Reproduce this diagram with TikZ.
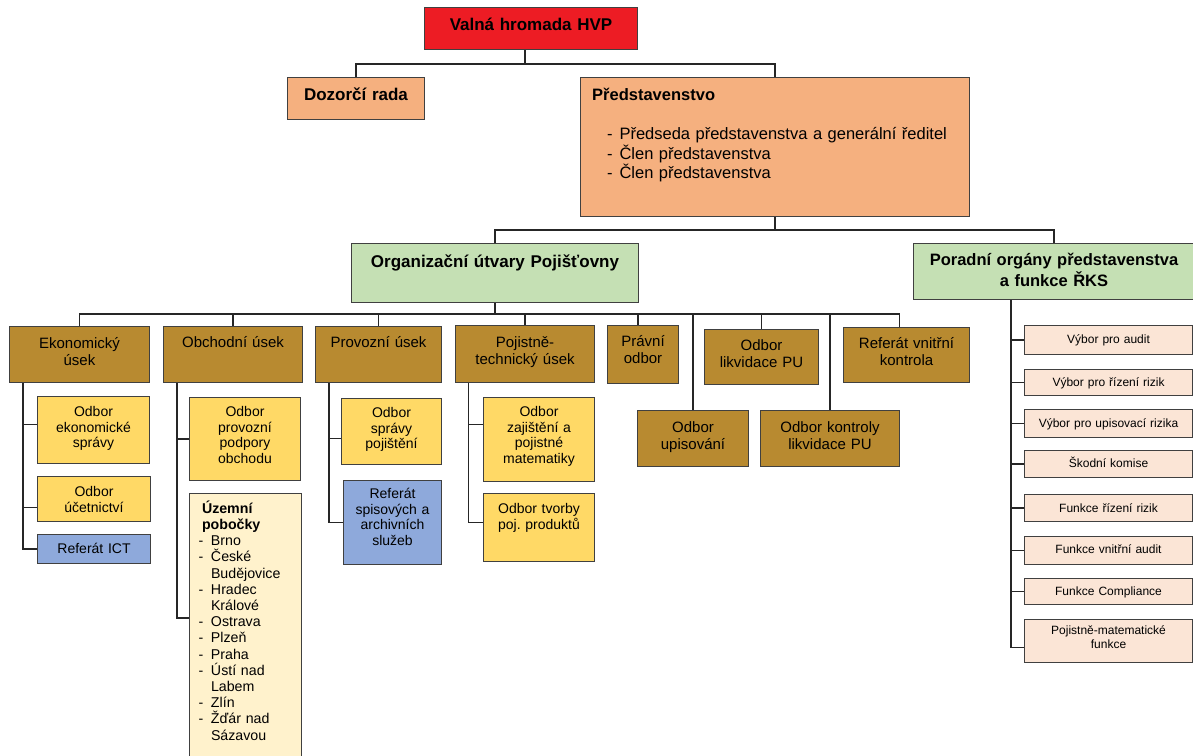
\documentclass[tikz,border=0pt]{standalone}
\usepackage{fontspec}
\setmainfont{Liberation Sans}
\usetikzlibrary{positioning}

\definecolor{hvpred}{HTML}{ED1C24}
\definecolor{salmon}{HTML}{F5B07F}
\definecolor{sage}{HTML}{C5E0B4}
\definecolor{ochre}{HTML}{B88A30}
\definecolor{golden}{HTML}{FFD966}
\definecolor{steel}{HTML}{8EA9DB}
\definecolor{cream}{HTML}{FFF2CC}
\definecolor{blush}{HTML}{FBE5D6}
\definecolor{edge}{HTML}{404040}
\definecolor{wire}{HTML}{262626}

\newcommand{\dashline}[3]{\hspace*{#1}\makebox[#2][l]{-}#3}

\begin{document}
\begin{tikzpicture}[x=1pt, y=-1pt,
    box/.style={draw=edge, line width=1pt, anchor=north west, inner sep=0pt, align=center},
    boxsize/.style n args={3}{text width=#1pt, text height=#3pt,
        /utils/exec={\pgfmathsetmacro\bxdepth{#2-#3}}, text depth=\bxdepth pt},
    conn/.style={draw=wire, line width=1.3pt},
    headbox/.style={box, font=\bfseries\fontsize{17}{20}\selectfont},
    unitbox/.style={box, fill=ochre, font=\fontsize{15}{17}\selectfont},
    deptbox/.style={box, fill=golden, font=\fontsize{14}{15.7}\selectfont},
    refbox/.style={box, fill=steel, font=\fontsize{14}{15.7}\selectfont},
    boardbox/.style={box, fill=blush, font=\fontsize{12}{14.3}\selectfont}
    ]
\useasboundingbox (0,0) rectangle (1193,755);

% vedeni
\node[headbox, fill=hvpred, boxsize={213}{42}{23}] (valna) at (424,7) {Valná hromada HVP};
\node[headbox, fill=salmon, boxsize={137}{42}{23}] (dozorci) at (287,77) {Dozorčí rada};
\node[box, fill=salmon, boxsize={389}{139}{23}, align=left,
    font=\fontsize{16.5}{19.5}\selectfont] (predst) at (580,77)
    {\hspace*{11.7pt}\textbf{Představenstvo}\\[19.5pt]
     \dashline{26.6pt}{12.4pt}{Předseda představenstva a generální ředitel}\\
     \dashline{26.6pt}{12.4pt}{Člen představenstva}\\
     \dashline{26.6pt}{12.4pt}{Člen představenstva}};

\node[headbox, fill=sage, boxsize={287}{59}{24}] (organ) at (351,243) {Organizační útvary Pojišťovny};
\node[box, fill=sage, boxsize={281}{56}{22}, font=\bfseries\fontsize{16.5}{21}\selectfont] (poradni) at (913,243)
    {Poradní orgány představenstva\\a funkce ŘKS};

% useky
\node[unitbox, boxsize={140}{56}{22}] (ekon) at (9,326) {Ekonomický\\úsek};
\node[unitbox, boxsize={139}{56}{21}] (obch) at (163,326) {Obchodní úsek};
\node[unitbox, boxsize={126}{56}{21}] (provoz) at (315,326) {Provozní úsek};
\node[unitbox, boxsize={139}{57}{22}] (pojtech) at (455,325) {Pojistně-\\technický úsek};
\node[unitbox, boxsize={71}{58}{21}] (pravni) at (607,325) {Právní\\odbor};
\node[unitbox, boxsize={114}{55}{21}] (likv) at (704,329) {Odbor\\likvidace PU};
\node[unitbox, boxsize={126}{55}{21}] (refvk) at (843,327) {Referát vnitřní\\kontrola};
\node[unitbox, boxsize={111}{56}{22}] (upis) at (637,410) {Odbor\\upisování};
\node[unitbox, boxsize={139}{56}{22}] (kontr) at (760,410) {Odbor kontroly\\likvidace PU};

% odbory
\node[deptbox, boxsize={112}{67}{20}] (eksprava) at (37,396) {Odbor\\ekonomické\\správy};
\node[deptbox, boxsize={113}{45}{20}] (ucet) at (37,476) {Odbor\\účetnictví};
\node[refbox, boxsize={113}{29}{19}] (ict) at (37,534) {Referát ICT};
\node[deptbox, boxsize={111}{83}{19}] (podpora) at (189,397) {Odbor\\provozní\\podpory\\obchodu};
\node[box, fill=cream, boxsize={112}{280}{19.7}, align=left,
    font=\fontsize{14.2}{16.2}\selectfont] (pobocky) at (189,493)
    {\hspace*{12.5pt}\textbf{Územní}\\
     \hspace*{12.5pt}\textbf{pobočky}\\
     \dashline{9pt}{12.5pt}{Brno}\\
     \dashline{9pt}{12.5pt}{České}\\
     \hspace*{21.5pt}Budějovice\\
     \dashline{9pt}{12.5pt}{Hradec}\\
     \hspace*{21.5pt}Králové\\
     \dashline{9pt}{12.5pt}{Ostrava}\\
     \dashline{9pt}{12.5pt}{Plzeň}\\
     \dashline{9pt}{12.5pt}{Praha}\\
     \dashline{9pt}{12.5pt}{Ústí nad}\\
     \hspace*{21.5pt}Labem\\
     \dashline{9pt}{12.5pt}{Zlín}\\
     \dashline{9pt}{12.5pt}{Žďár nad}\\
     \hspace*{21.5pt}Sázavou};
\node[deptbox, boxsize={100}{66}{19}] (spravapoj) at (341,398) {Odbor\\správy\\pojištění};
\node[refbox, boxsize={98}{84}{18}] (spis) at (343,480) {Referát\\spisových a\\archivních\\služeb};
\node[deptbox, boxsize={111}{84}{19}] (zajist) at (483,397) {Odbor\\zajištění a\\pojistné\\matematiky};
\node[deptbox, boxsize={111}{68}{20}] (tvorba) at (483,493) {Odbor tvorby\\poj.\ produktů};

% poradni organy
\node[boardbox, boxsize={168}{29}{18}] (vaudit) at (1024,325) {Výbor pro audit};
\node[boardbox, boxsize={168}{26}{17}] (vrizik) at (1024,369) {Výbor pro řízení rizik};
\node[boardbox, boxsize={168}{28}{18}] (vupis) at (1024,409) {Výbor pro upisovací rizika};
\node[boardbox, boxsize={168}{27}{17}] (skoda) at (1024,450) {Škodní komise};
\node[boardbox, boxsize={168}{27}{18}] (frizik) at (1024,494) {Funkce řízení rizik};
\node[boardbox, boxsize={168}{28}{17}] (faudit) at (1024,536) {Funkce vnitřní audit};
\node[boardbox, boxsize={168}{26}{17}] (fcomp) at (1024,578) {Funkce Compliance};
\node[boardbox, boxsize={168}{43}{15}] (pojmat) at (1024,619) {Pojistně-matematické\\funkce};

% spojnice
\coordinate (j1) at ([xshift=-6pt,yshift=-14pt]valna.south);
\draw[conn] (j1) -- (j1 |- valna.south);
\draw[conn] (dozorci.north) |- (j1) -| (predst.north);

\coordinate (j2) at ([yshift=-13pt]predst.south);
\draw[conn] (predst.south) -- (j2);
\draw[conn] (organ.north) |- (j2) -| (poradni.north);

\coordinate (j3) at ([yshift=-11pt]organ.south);
\draw[conn] (organ.south) -- (j3);
\foreach \n in {ekon,obch,provoz,pojtech,likv,upis,kontr}
    \draw[conn] (j3) -| (\n.north);
\draw[conn] (j3) -| ([xshift=-5pt]pravni.north);
\draw[conn] (j3) -| ([xshift=-7pt]refvk.north);

\coordinate (es) at ([xshift=14pt]ekon.south west);
\draw[conn] (es) |- ([yshift=5.5pt]eksprava.west);
\draw[conn] (es) |- ([yshift=-8.5pt]ucet.west);
\draw[conn] (es) |- (ict.west);

\coordinate (os) at ([xshift=14pt]obch.south west);
\draw[conn] (os) |- (podpora.west);
\draw[conn] (os) |- ([yshift=-125pt]pobocky.north west);

\coordinate (ps) at ([xshift=14pt]provoz.south west);
\draw[conn] (ps) |- ([yshift=-7pt]spravapoj.west);
\draw[conn] (ps) |- (spis.west);

\coordinate (ts) at ([xshift=13.5pt]pojtech.south west);
\draw[conn] (ts) |- ([yshift=15pt]zajist.west);
\draw[conn] (ts) |- ([yshift=5pt]tvorba.west);

\coordinate (rs) at ([xshift=98pt]poradni.south west);
\foreach \n in {vaudit,vrizik,vupis,skoda,frizik,faudit,fcomp}
    \draw[conn] (rs) |- (\n.west);
\draw[conn] (rs) |- ([yshift=-6.5pt]pojmat.west);
\end{tikzpicture}
\end{document}
